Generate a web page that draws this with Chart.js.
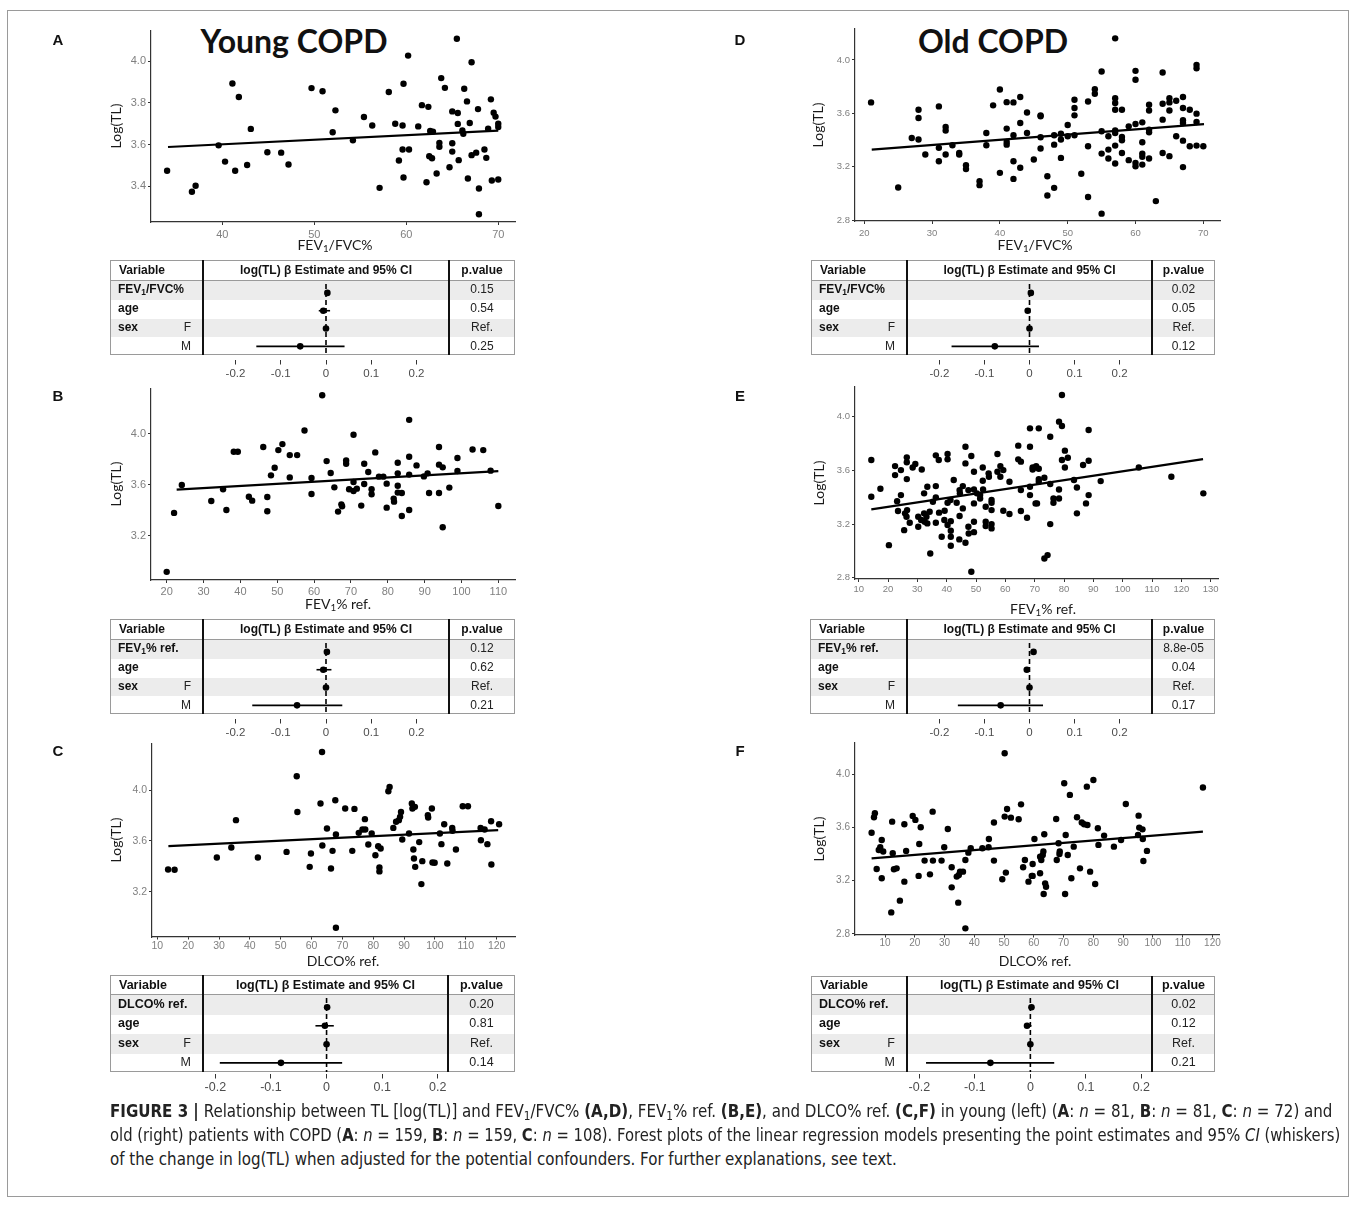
<!DOCTYPE html>
<html>
<head>
<meta charset="utf-8">
<script src="https://cdn.jsdelivr.net/npm/chart.js@4.4.1/dist/chart.umd.min.js"></script>
<style>
body { margin: 0; background: #fff; }
#fig { position: relative; width: 1357px; height: 1205px; overflow: hidden; font-family: "Liberation Sans", Arial, sans-serif; color: #111; }
#fig div, #fig canvas { position: absolute; }
.frame { border: 1px solid #9a9a9a; box-sizing: border-box; }
.letter { font: bold 15px "Liberation Sans", Arial, sans-serif; transform: translate(-50%, -50%); }
.big { font: bold 32px Lato, sans-serif; white-space: nowrap; transform: translate(-50%, -50%); }
.ytitle { font: 14px Lato, sans-serif; color: #1a1a1a; white-space: nowrap; transform: translate(-50%, -50%) rotate(-90deg); }
.xtitle { font: 14px Lato, sans-serif; color: #1a1a1a; white-space: nowrap; transform: translate(-50%, -50%); }
.cell { white-space: nowrap; transform: translateY(-50%); line-height: 1; }
.cc { white-space: nowrap; transform: translate(-50%, -50%); line-height: 1; }
.cr { white-space: nowrap; transform: translate(-100%, -50%); line-height: 1; }
sub { font-size: 0.7em; vertical-align: -0.25em; line-height: 0; }
.cap { white-space: nowrap; font-family: "Liberation Sans Narrow", "DejaVu Sans Condensed", "Liberation Sans", Arial, sans-serif; color: #222; line-height: 24px; transform-origin: 0 0; }
</style>
</head>
<body>
<div id="fig"></div>
<script>
// ---- scatter data: [x, log(TL)] ----
const youngFevFvc = [[34.0,3.474],[36.7,3.373],[37.1,3.402],[39.6,3.596],[40.3,3.518],[41.1,3.893],[41.4,3.474],[41.8,3.828],[42.7,3.502],[43.1,3.675],[44.9,3.563],[46.4,3.561],[47.2,3.504],[49.7,3.871],[50.9,3.856],[52.0,3.659],[52.3,3.764],[54.2,3.620],[55.4,3.732],[56.3,3.691],[57.1,3.392],[58.1,3.852],[58.8,3.700],[59.2,3.523],[59.6,3.691],[59.6,3.576],[59.7,3.442],[59.7,3.892],[60.2,4.027],[60.3,3.576],[61.3,3.687],[61.7,3.789],[62.2,3.419],[62.4,3.781],[62.5,3.544],[62.6,3.665],[62.8,3.534],[62.9,3.662],[63.3,3.461],[63.6,3.608],[63.6,3.589],[63.8,3.919],[64.2,3.872],[64.7,3.491],[65.0,3.759],[65.0,3.606],[65.0,3.566],[65.5,4.108],[65.6,3.751],[65.6,3.699],[65.7,3.525],[66.1,3.667],[66.2,3.652],[66.3,3.868],[66.6,3.807],[66.7,3.437],[66.9,3.703],[67.1,3.549],[67.1,3.995],[67.6,3.561],[67.8,3.770],[67.9,3.389],[67.9,3.265],[68.5,3.576],[68.7,3.536],[68.9,3.676],[69.2,3.817],[69.3,3.427],[69.5,3.753],[69.7,3.734],[70.0,3.700],[70.0,3.432],[70.0,3.684]];
const youngFevRef = [[20,2.918],[22.0,3.380],[24.1,3.599],[32.1,3.473],[35.3,3.565],[36.2,3.403],[38.2,3.859],[39.3,3.859],[42.3,3.507],[43.2,3.476],[46.2,3.896],[47.3,3.505],[47.3,3.393],[48.3,3.674],[49.3,3.734],[50.3,3.872],[51.4,3.919],[53.4,3.833],[53.4,3.658],[55.4,3.833],[57.4,4.026],[59.3,3.653],[59.3,3.528],[62.2,4.302],[63.4,3.786],[64.5,3.692],[65.5,3.580],[66.5,3.390],[67.4,3.447],[67.6,3.432],[68.7,3.791],[68.7,3.765],[69.5,3.565],[70.7,3.992],[70.7,3.622],[70.7,3.552],[71.6,3.570],[72.8,3.437],[73.6,3.765],[73.6,3.606],[74.7,3.700],[75.6,3.565],[75.6,3.526],[76.6,3.854],[77.6,3.664],[78.8,3.664],[79.7,3.609],[79.7,3.421],[81.6,3.492],[81.7,3.468],[82.7,3.773],[82.7,3.690],[82.7,3.593],[82.7,3.539],[83.8,3.536],[83.8,3.356],[85.8,4.109],[85.8,3.820],[85.8,3.680],[85.8,3.403],[87.8,3.752],[89.8,3.666],[90.8,3.690],[91.2,3.536],[93.9,3.896],[93.9,3.758],[93.9,3.536],[94.9,3.737],[94.9,3.267],[96.7,3.578],[98.9,3.810],[98.9,3.708],[103.0,3.877],[105.9,3.872],[107.9,3.711],[110.0,3.434]];
const youngDlco = [[13.5,3.375],[15.6,3.373],[29.3,3.470],[34.0,3.549],[35.5,3.764],[42.6,3.470],[51.9,3.514],[55.2,4.110],[55.4,3.829],[59.4,3.396],[59.8,3.501],[62.9,3.895],[63.4,4.302],[63.5,3.564],[65.0,3.698],[66.3,3.383],[66.8,3.522],[67.7,3.921],[67.9,3.651],[67.9,2.916],[70.9,3.856],[73.2,3.522],[73.9,3.853],[75.3,3.664],[76.5,3.690],[77.3,3.772],[77.4,3.690],[78.4,3.572],[79.5,3.659],[80.7,3.488],[81.6,3.559],[82.0,3.391],[82.0,3.360],[84.9,3.992],[85.3,4.026],[82.4,3.541],[86.5,3.703],[87.4,3.751],[88.3,3.764],[88.7,3.790],[89.0,3.829],[89.4,3.612],[91.6,3.659],[92.5,3.895],[92.7,3.856],[93.0,3.533],[93.2,3.462],[93.5,3.869],[93.6,3.396],[94.9,3.591],[95.6,3.260],[95.9,3.441],[97.7,3.803],[97.8,3.785],[99.0,3.856],[99.2,3.430],[99.9,3.428],[101.6,3.659],[102.1,3.575],[103.0,3.732],[104.0,3.423],[105.6,3.703],[105.7,3.680],[106.8,3.533],[109.0,3.874],[110.7,3.874],[114.8,3.703],[114.9,3.606],[116.1,3.690],[117.0,3.575],[118.2,3.756],[118.3,3.415],[120.8,3.732]];
const oldFevFvc = [[21,3.682],[25,3.046],[27,3.416],[28,3.627],[28,3.565],[28,3.404],[29,3.292],[31,3.652],[31,3.342],[31,3.242],[32,3.498],[32,3.471],[32,3.292],[33,3.361],[34,3.304],[34,3.292],[35,3.212],[35,3.183],[37,3.093],[37,3.063],[38,3.453],[38,3.361],[39,3.660],[40,3.779],[40,3.155],[41,3.684],[41,3.486],[41,3.386],[41,3.366],[42,3.682],[42,3.436],[42,3.242],[42,3.110],[43,3.722],[43,3.528],[43,3.193],[44,3.607],[44,3.453],[45,3.255],[46,3.585],[46,3.578],[46,3.421],[46,3.337],[47,3.130],[47,2.986],[48,3.436],[48,3.366],[48,3.043],[49,3.448],[49,3.404],[49,3.267],[50,3.513],[50,3.429],[51,3.702],[51,3.640],[51,3.585],[51,3.436],[52,3.148],[53,3.689],[53,3.354],[53,2.974],[54,3.781],[54,3.747],[55,3.913],[55,3.466],[55,3.299],[55,2.850],[56,3.429],[56,3.329],[56,3.262],[57,4.161],[57,3.714],[57,3.677],[57,3.627],[57,3.473],[57,3.453],[57,3.359],[57,3.225],[58,3.627],[58,3.424],[58,3.399],[58,3.304],[59,3.503],[59,3.250],[60,3.918],[60,3.851],[60,3.520],[60,3.230],[60,3.205],[61,3.533],[61,3.384],[61,3.299],[61,3.275],[61,3.217],[62,3.665],[62,3.622],[62,3.478],[62,3.458],[62,3.262],[63,2.944],[64,3.906],[64,3.672],[64,3.553],[64,3.304],[65,3.714],[65,3.682],[65,3.622],[65,3.280],[66,3.694],[66,3.429],[67,3.722],[67,3.640],[67,3.548],[67,3.528],[67,3.396],[67,3.198],[68,3.627],[68,3.354],[69,3.963],[69,3.938],[69,3.598],[69,3.535],[69,3.359],[70,3.354]];
const oldFevRef = [[14.3,3.677],[14.3,3.404],[17.4,3.463],[20.3,3.043],[22.4,3.632],[22.4,3.565],[23.1,3.371],[23.4,3.297],[24.4,3.416],[24.4,3.602],[25.5,3.155],[25.8,3.280],[26.3,3.255],[26.4,3.697],[26.4,3.660],[26.4,3.535],[26.5,3.304],[27.4,3.210],[28.4,3.622],[29.3,3.647],[30.3,3.255],[30.3,3.180],[31.3,3.230],[31.5,3.607],[32.3,3.429],[32.3,3.280],[32.5,3.217],[33.1,3.255],[33.4,3.478],[33.4,3.205],[34.2,3.292],[34.4,2.981],[35.3,3.366],[36.3,3.712],[36.3,3.483],[36.3,3.399],[36.3,3.210],[37.3,3.677],[37.4,3.285],[38.3,3.106],[39.2,3.230],[39.3,3.299],[40.3,3.722],[40.3,3.682],[40.3,3.359],[40.3,3.193],[41.3,3.379],[41.4,3.222],[41.4,3.150],[41.4,3.106],[41.4,3.039],[42.4,3.528],[43.4,3.359],[44.3,3.086],[44.4,3.453],[44.4,3.260],[44.5,3.429],[45.5,3.483],[45.5,3.317],[46.4,3.776],[46.4,3.652],[46.4,3.061],[47.4,3.453],[47.4,3.180],[47.5,3.130],[48.4,3.707],[48.4,2.845],[49.3,3.590],[49.3,3.458],[49.3,3.354],[49.3,3.217],[49.3,3.140],[50.3,3.429],[51.4,3.416],[51.4,3.391],[52.3,3.622],[52.3,3.523],[52.4,3.458],[53.3,3.329],[53.3,3.217],[53.3,3.185],[54.3,3.578],[54.4,3.553],[55.3,3.379],[55.3,3.359],[55.3,3.304],[55.3,3.200],[55.3,3.168],[57.3,3.722],[57.3,3.590],[58.3,3.632],[58.3,3.553],[59.3,3.602],[59.3,3.299],[61.4,3.515],[61.4,3.275],[64.4,3.784],[64.4,3.682],[65.3,3.665],[65.3,3.453],[65.3,3.297],[67.4,3.247],[68.4,3.913],[68.4,3.776],[68.4,3.478],[68.4,3.416],[69.3,3.622],[69.3,3.607],[70.3,3.622],[70.3,3.354],[70.5,3.632],[70.8,3.354],[71.4,3.913],[71.4,3.612],[71.4,3.535],[71.4,3.515],[73.3,3.545],[73.3,2.944],[74.4,2.969],[75.3,3.851],[75.3,3.498],[75.3,3.200],[76.4,3.391],[76.4,3.359],[78.3,3.963],[78.3,3.458],[78.3,3.391],[79.3,4.161],[79.3,3.930],[79.3,3.677],[80.3,3.747],[80.3,3.622],[81.3,3.694],[83.4,3.528],[84.4,3.473],[84.4,3.280],[86.5,3.640],[87.5,3.354],[88.4,3.901],[88.4,3.672],[88.4,3.416],[92.5,3.520],[105.5,3.622],[116.6,3.553],[127.5,3.429]];
const oldDlco = [[5.5,3.561],[6.3,3.677],[6.6,3.707],[7.2,3.288],[7.9,3.431],[8.4,3.451],[8.9,3.218],[8.9,3.506],[9.4,3.419],[12.4,3.644],[12.6,3.406],[12.1,2.962],[13.0,3.286],[13.9,3.293],[15.0,3.050],[16.5,3.624],[16.5,3.193],[17.1,3.424],[19.3,3.687],[20.2,3.657],[21.3,3.236],[21.5,3.476],[22.0,3.602],[23.3,3.351],[25.1,3.248],[26.0,3.719],[26.1,3.351],[29.0,3.351],[29.9,3.451],[31.1,3.589],[32.4,3.301],[32.4,3.150],[34.1,3.231],[34.6,3.035],[34.8,3.243],[35.2,3.268],[36.2,3.268],[37.0,2.842],[37.0,3.356],[38.0,3.411],[38.8,3.444],[42.7,3.444],[44.8,3.451],[44.9,3.514],[46.6,3.637],[46.6,3.351],[49.4,3.211],[50.2,4.158],[50.2,3.682],[50.6,3.261],[51.0,3.739],[52.3,3.674],[54.9,3.662],[55.7,3.774],[56.4,3.301],[57.0,3.356],[58.2,3.193],[59.3,3.236],[59.6,3.236],[60.2,3.514],[59.6,3.326],[62.1,3.381],[62.1,3.256],[62.5,3.356],[63.0,3.393],[63.2,3.419],[63.3,3.100],[63.5,3.549],[63.8,3.180],[64.1,3.155],[67.5,3.664],[67.7,3.356],[68.3,3.481],[68.6,3.401],[68.7,3.419],[70.2,3.932],[70.5,3.100],[70.7,3.544],[71.4,3.393],[72.1,3.845],[72.6,3.218],[73.4,3.456],[74.5,3.677],[75.5,3.293],[76.1,3.637],[76.9,3.624],[77.8,3.907],[78.0,3.619],[78.9,3.268],[80.0,3.957],[80.6,3.175],[81.5,3.594],[81.7,3.469],[83.6,3.539],[86.9,3.456],[89.3,3.506],[90.9,3.777],[95.2,3.689],[95.0,3.544],[95.4,3.599],[96.5,3.586],[96.6,3.514],[96.8,3.348],[98.0,3.424],[116.8,3.900]];

// ---- fitted regression lines: [x, log(TL)] at both ends ----
const fitYoungFevFvc = [[34.1,3.588],[70.0,3.667]];
const fitYoungFevRef = [[22.7,3.562],[110.0,3.708]];
const fitYoungDlco = [[13.6,3.559],[120.5,3.685]];
const fitOldFevFvc = [[21.1,3.329],[70.1,3.520]];
const fitOldFevRef = [[14.3,3.309],[127.4,3.684]];
const fitOldDlco = [[5.5,3.368],[116.8,3.569]];

// ---- tick labels ----
const ticksXYoungFevFvc = [40,50,60,70];
const ticksXYoungFevRef = [20,30,40,50,60,70,80,90,100,110];
const ticksXYoungDlco = [10,20,30,40,50,60,70,80,90,100,110,120];
const ticksXOldFevFvc = [20,30,40,50,60,70];
const ticksXOldFevRef = [10,20,30,40,50,60,70,80,90,100,110,120,130];
const ticksXOldDlco = [10,20,30,40,50,60,70,80,90,100,110,120];
const ticksYYoungFevFvc = [3.4,3.6,3.8,4.0];
const ticksYYoung = [3.2,3.6,4.0];
const ticksYOld = [2.8,3.2,3.6,4.0];
const ticksForest = [-0.2,-0.1,0,0.1,0.2];

// ---- forest plots: rows = variable, age, sex F, sex M ----
const rowNamesFevFvc = ['FEV<sub>1</sub>/FVC%','age','sex',''];
const rowNamesFevRef = ['FEV<sub>1</sub>% ref.','age','sex',''];
const rowNamesDlco = ['DLCO% ref.','age','sex',''];
const rowLevels = ['','','F','M'];

const estYoungFevFvc = [0.003,-0.006,0,-0.057];
const loYoungFevFvc = [0.001,-0.016,0,-0.154];
const hiYoungFevFvc = [0.005,0.009,0,0.041];
const pYoungFevFvc = ['0.15','0.54','Ref.','0.25'];

const estYoungFevRef = [0.002,-0.006,0,-0.064];
const loYoungFevRef = [0.000,-0.021,0,-0.163];
const hiYoungFevRef = [0.004,0.012,0,0.036];
const pYoungFevRef = ['0.12','0.62','Ref.','0.21'];

const estYoungDlco = [0.001,-0.003,0,-0.082];
const loYoungDlco = [0.000,-0.020,0,-0.192];
const hiYoungDlco = [0.003,0.013,0,0.028];
const pYoungDlco = ['0.20','0.81','Ref.','0.14'];

const estOldFevFvc = [0.003,-0.004,0,-0.077];
const loOldFevFvc = [0.001,-0.008,0,-0.173];
const hiOldFevFvc = [0.005,0.000,0,0.021];
const pOldFevFvc = ['0.02','0.05','Ref.','0.12'];

const estOldFevRef = [0.009,-0.006,0,-0.064];
const loOldFevRef = [0.005,-0.009,0,-0.159];
const hiOldFevRef = [0.013,-0.002,0,0.030];
const pOldFevRef = ['8.8e-05','0.04','Ref.','0.17'];

const estOldDlco = [0.002,-0.006,0,-0.072];
const loOldDlco = [0.001,-0.010,0,-0.188];
const hiOldDlco = [0.004,0.002,0,0.043];
const pOldDlco = ['0.02','0.12','Ref.','0.21'];

const fig = document.getElementById('fig');

function addDiv(cls, html, x, y, style) {
  const d = document.createElement('div');
  if (cls) d.className = cls;
  d.innerHTML = html;
  d.style.left = x + 'px';
  d.style.top = y + 'px';
  if (style) Object.assign(d.style, style);
  fig.appendChild(d);
  return d;
}

function addCanvas(x, y, w, h) {
  const cv = document.createElement('canvas');
  cv.width = w; cv.height = h;
  cv.style.left = x + 'px'; cv.style.top = y + 'px';
  cv.style.width = w + 'px'; cv.style.height = h + 'px';
  fig.appendChild(cv);
  return cv;
}

const tickFont = 'Liberation Sans';

function scatterPanel(p) {
  const [l, t, r, b] = p.rect;
  const PL = 44, PT = 8, PR = 14, PB = 24;
  const cv = addCanvas(l - PL, t - PT, r - l + PL + PR, b - t + PT + PB);
  new Chart(cv, {
    type: 'scatter',
    data: {
      datasets: [
        { type: 'line', data: p.fit.map(d => ({x: d[0], y: d[1]})), borderColor: '#000', borderWidth: 2.2,
          pointRadius: 0, fill: false, order: 0 },
        { data: p.pts.map(d => ({x: d[0], y: d[1]})), pointRadius: 3.2, pointBackgroundColor: '#000',
          pointBorderWidth: 0, clip: false, order: 1 }
      ]
    },
    options: {
      responsive: false, animation: false, devicePixelRatio: 1,
      layout: { padding: { left: 0, top: PT, right: PR, bottom: 0 } },
      plugins: { legend: { display: false }, tooltip: { enabled: false } },
      scales: {
        x: {
          type: 'linear', min: p.xr[0], max: p.xr[1],
          afterFit: s => { s.height = PB; },
          afterBuildTicks: s => { s.ticks = p.xt.map(v => ({value: v})); },
          grid: { drawOnChartArea: false, drawTicks: true, tickLength: p.tl, color: '#333' },
          border: { display: true, color: '#333', width: 1.2 },
          ticks: { color: '#808080', font: { family: tickFont, size: p.fs }, padding: p.xpad,
                   maxRotation: 0, autoSkip: false, callback: v => String(v) }
        },
        y: {
          type: 'linear', min: p.yr[0], max: p.yr[1],
          afterFit: s => { s.width = PL; },
          afterBuildTicks: s => { s.ticks = p.yt.map(v => ({value: v})); },
          grid: { drawOnChartArea: false, drawTicks: true, tickLength: 3, color: '#333' },
          border: { display: true, color: '#333', width: 1.2 },
          ticks: { color: '#808080', font: { family: tickFont, size: p.fs }, padding: 2,
                   autoSkip: false, callback: v => v.toFixed(1) }
        }
      }
    }
  });
  addDiv('ytitle', 'Log(TL)', p.ytx, (t + b) / 2);
  addDiv('xtitle', p.xtitle, p.xtx, p.xty);
  addDiv('letter', p.letter, p.lx, p.ly);
}

const whiskers = {
  id: 'whiskers',
  beforeDatasetsDraw(chart, args, opts) {
    const {ctx, scales: {x, y}} = chart;
    ctx.save();
    ctx.strokeStyle = '#000';
    ctx.lineWidth = 1.6;
    opts.lo.forEach((lo, i) => {
      const hi = opts.hi[i];
      if (hi - lo <= 0) return;
      ctx.beginPath();
      ctx.moveTo(x.getPixelForValue(lo), y.getPixelForValue(i));
      ctx.lineTo(x.getPixelForValue(hi), y.getPixelForValue(i));
      ctx.stroke();
    });
    ctx.restore();
  }
};

function forestPanel(f) {
  const [l, t, r, b] = f.rect;
  const rowH = (b - f.head) / 4;
  addDiv('frame', '', l, t, { width: (r - l) + 'px', height: (b - t) + 'px' });
  [0, 2].forEach(i => addDiv('', '', l + 1, f.head + 1 + i * rowH,
    { width: (r - l - 2) + 'px', height: rowH + 'px', background: '#ececec' }));
  addDiv('', '', l, f.head, { width: (r - l) + 'px', height: '1px', background: '#9a9a9a' });
  [f.c1, f.c2].forEach(c => addDiv('', '', c - 1, t, { width: '2px', height: (b - t) + 'px', background: '#111' }));

  const fs = f.fs;
  const hy = (t + f.head) / 2;
  const bold = 'bold ' + fs + 'px "Liberation Sans", Arial';
  addDiv('cell', 'Variable', l + 9, hy, { font: bold });
  addDiv('cc', 'log(TL) β Estimate and 95% CI', (f.c1 + f.c2) / 2, hy, { font: bold });
  addDiv('cc', 'p.value', (f.c2 + r) / 2, hy, { font: bold });
  f.names.forEach((n, i) => {
    const cy = f.head + (i + 0.5) * rowH;
    if (n) addDiv('cell', n, l + 8, cy, { font: bold });
    if (rowLevels[i]) addDiv('cr', rowLevels[i], f.c1 - 12, cy, { font: fs + 'px "Liberation Sans", Arial', color: '#222' });
    addDiv('cc', f.p[i], (f.c2 + r) / 2, cy, { font: fs + 'px "Liberation Sans", Arial', color: '#222' });
  });

  const PB = 26;
  const gap = f.gap;
  const cv = addCanvas(f.c1, f.head, f.c2 - f.c1, (b - f.head) + gap + PB);
  new Chart(cv, {
    type: 'scatter',
    data: {
      datasets: [
        { type: 'line', data: [{x: 0, y: -0.5}, {x: 0, y: 3.5}], borderColor: '#000', borderWidth: 1.6,
          borderDash: [5, 3], pointRadius: 0, fill: false },
        { data: f.est.map((e, i) => ({x: e, y: i})), pointRadius: 3.3, pointBackgroundColor: '#000', pointBorderWidth: 0 }
      ]
    },
    options: {
      responsive: false, animation: false, devicePixelRatio: 1,
      layout: { padding: 0 },
      plugins: { legend: { display: false }, tooltip: { enabled: false }, whiskers: { lo: f.lo, hi: f.hi } },
      scales: {
        x: {
          type: 'linear', min: -f.range, max: f.range,
          afterFit: s => { s.height = PB; },
          afterBuildTicks: s => { s.ticks = ticksForest.map(v => ({value: v})); },
          grid: { drawOnChartArea: false, drawTicks: true, tickLength: 4.5, color: '#333' },
          border: { display: false },
          ticks: { color: '#4d4d4d', font: { family: tickFont, size: f.tfs }, padding: f.tpad, maxRotation: 0,
                   autoSkip: false, callback: v => (v === 0 ? '0' : v.toFixed(1)) }
        },
        y: { type: 'linear', min: -0.5, max: 3.5 + gap / rowH, reverse: true, display: false }
      }
    },
    plugins: [whiskers]
  });
}

// outer frame and headings
addDiv('frame', '', 7, 10, { width: '1342px', height: '1187px' });
addDiv('big', 'Young COPD', 294, 40);
addDiv('big', 'Old COPD', 993, 40);

scatterPanel({ letter: 'A', lx: 58, ly: 39, pts: youngFevFvc, fit: fitYoungFevFvc, rect: [151, 30, 515, 222],
  xr: [32.25, 71.82], yr: [3.228, 4.147], xt: ticksXYoungFevFvc, yt: ticksYYoungFevFvc, fs: 11, tl: 3, xpad: 3,
  xtitle: 'FEV<sub>1</sub>/FVC%', xtx: 335, xty: 244, ytx: 115 });
scatterPanel({ letter: 'B', lx: 58, ly: 395, pts: youngFevRef, fit: fitYoungFevRef, rect: [151, 388, 515, 580],
  xr: [15.74, 114.52], yr: [2.854, 4.354], xt: ticksXYoungFevRef, yt: ticksYYoung, fs: 11, tl: 3, xpad: 2.5,
  xtitle: 'FEV<sub>1</sub>% ref.', xtx: 338, xty: 603, ytx: 115 });
scatterPanel({ letter: 'C', lx: 58, ly: 750, pts: youngDlco, fit: fitYoungDlco, rect: [152, 743, 515, 937],
  xr: [8.28, 125.95], yr: [2.843, 4.370], xt: ticksXYoungDlco, yt: ticksYYoung, fs: 10.5, tl: 2.5, xpad: 0,
  xtitle: 'DLCO% ref.', xtx: 343, xty: 960, ytx: 115 });
scatterPanel({ letter: 'D', lx: 740, ly: 39, pts: oldFevFvc, fit: fitOldFevFvc, rect: [855, 29, 1220, 221],
  xr: [18.63, 72.46], yr: [2.795, 4.231], xt: ticksXOldFevFvc, yt: ticksYOld, fs: 9.5, tl: 3, xpad: 4,
  xtitle: 'FEV<sub>1</sub>/FVC%', xtx: 1035, xty: 244, ytx: 817 });
scatterPanel({ letter: 'E', lx: 740, ly: 395, pts: oldFevRef, fit: fitOldFevRef, rect: [855, 387, 1218, 579],
  xr: [8.74, 132.5], yr: [2.791, 4.221], xt: ticksXOldFevRef, yt: ticksYOld, fs: 9.5, tl: 3, xpad: 1.5,
  xtitle: 'FEV<sub>1</sub>% ref.', xtx: 1043, xty: 608, ytx: 818 });
scatterPanel({ letter: 'F', lx: 740, ly: 750, pts: oldDlco, fit: fitOldDlco, rect: [855, 743, 1219, 935],
  xr: [-0.08, 122.2], yr: [2.792, 4.235], xt: ticksXOldDlco, yt: ticksYOld, fs: 10, tl: 2.5, xpad: 0,
  xtitle: 'DLCO% ref.', xtx: 1035, xty: 960, ytx: 818 });

forestPanel({ rect: [110, 260, 515, 355], head: 280, c1: 203, c2: 449, range: 0.263, gap: 5, fs: 12, tfs: 11.5, tpad: 2,
  names: rowNamesFevFvc, est: estYoungFevFvc, lo: loYoungFevFvc, hi: hiYoungFevFvc, p: pYoungFevFvc });
forestPanel({ rect: [110, 619, 515, 714], head: 639, c1: 203, c2: 449, range: 0.263, gap: 5, fs: 12, tfs: 11.5, tpad: 2,
  names: rowNamesFevRef, est: estYoungFevRef, lo: loYoungFevRef, hi: hiYoungFevRef, p: pYoungFevRef });
forestPanel({ rect: [110, 975, 515, 1072], head: 994, c1: 203, c2: 448, range: 0.21, gap: 2, fs: 12.5, tfs: 12.5, tpad: 1.5,
  names: rowNamesDlco, est: estYoungDlco, lo: loYoungDlco, hi: hiYoungDlco, p: pYoungDlco });
forestPanel({ rect: [811, 260, 1215, 355], head: 280, c1: 907, c2: 1152, range: 0.263, gap: 5, fs: 12, tfs: 11.5, tpad: 2,
  names: rowNamesFevFvc, est: estOldFevFvc, lo: loOldFevFvc, hi: hiOldFevFvc, p: pOldFevFvc });
forestPanel({ rect: [810, 619, 1215, 714], head: 639, c1: 907, c2: 1152, range: 0.263, gap: 5, fs: 12, tfs: 11.5, tpad: 2,
  names: rowNamesFevRef, est: estOldFevRef, lo: loOldFevRef, hi: hiOldFevRef, p: pOldFevRef });
forestPanel({ rect: [811, 976, 1215, 1072], head: 994, c1: 907, c2: 1152, range: 0.212, gap: 2, fs: 12.5, tfs: 12.5, tpad: 1.5,
  names: rowNamesDlco, est: estOldDlco, lo: loOldDlco, hi: hiOldDlco, p: pOldDlco });

// caption
const capLines = [
  '<b>FIGURE 3 |</b> Relationship between TL [log(TL)] and FEV<sub>1</sub>/FVC% <b>(A,D)</b>, FEV<sub>1</sub>% ref. <b>(B,E)</b>, and DLCO% ref. <b>(C,F)</b> in young (left) (<b>A</b>: <i>n</i> = 81, <b>B</b>: <i>n</i> = 81, <b>C</b>: <i>n</i> = 72) and',
  'old (right) patients with COPD (<b>A</b>: <i>n</i> = 159, <b>B</b>: <i>n</i> = 159, <b>C</b>: <i>n</i> = 108). Forest plots of the linear regression models presenting the point estimates and 95% <i>CI</i> (whiskers)',
  'of the change in log(TL) when adjusted for the potential confounders. For further explanations, see text.'
];
const capWidths = [1223, 1230, 0];
const capDivs = capLines.map((h, i) => addDiv('cap', h, 110, 1099 + i * 24, { fontSize: '16px' }));
function fitCaption() {
  capDivs.forEach(d => { d.style.fontSize = '16px'; d.style.transform = 'none'; });
  const size = 16 * capWidths[0] / capDivs[0].offsetWidth;
  capDivs.forEach(d => d.style.fontSize = size.toFixed(2) + 'px');
  capDivs.forEach((d, i) => {
    const w = d.offsetWidth;
    if (capWidths[i] && w > capWidths[i]) d.style.transform = 'scaleX(' + (capWidths[i] / w).toFixed(4) + ')';
  });
}
fitCaption();
if (document.fonts) document.fonts.ready.then(fitCaption);
</script>
</body>
</html>
